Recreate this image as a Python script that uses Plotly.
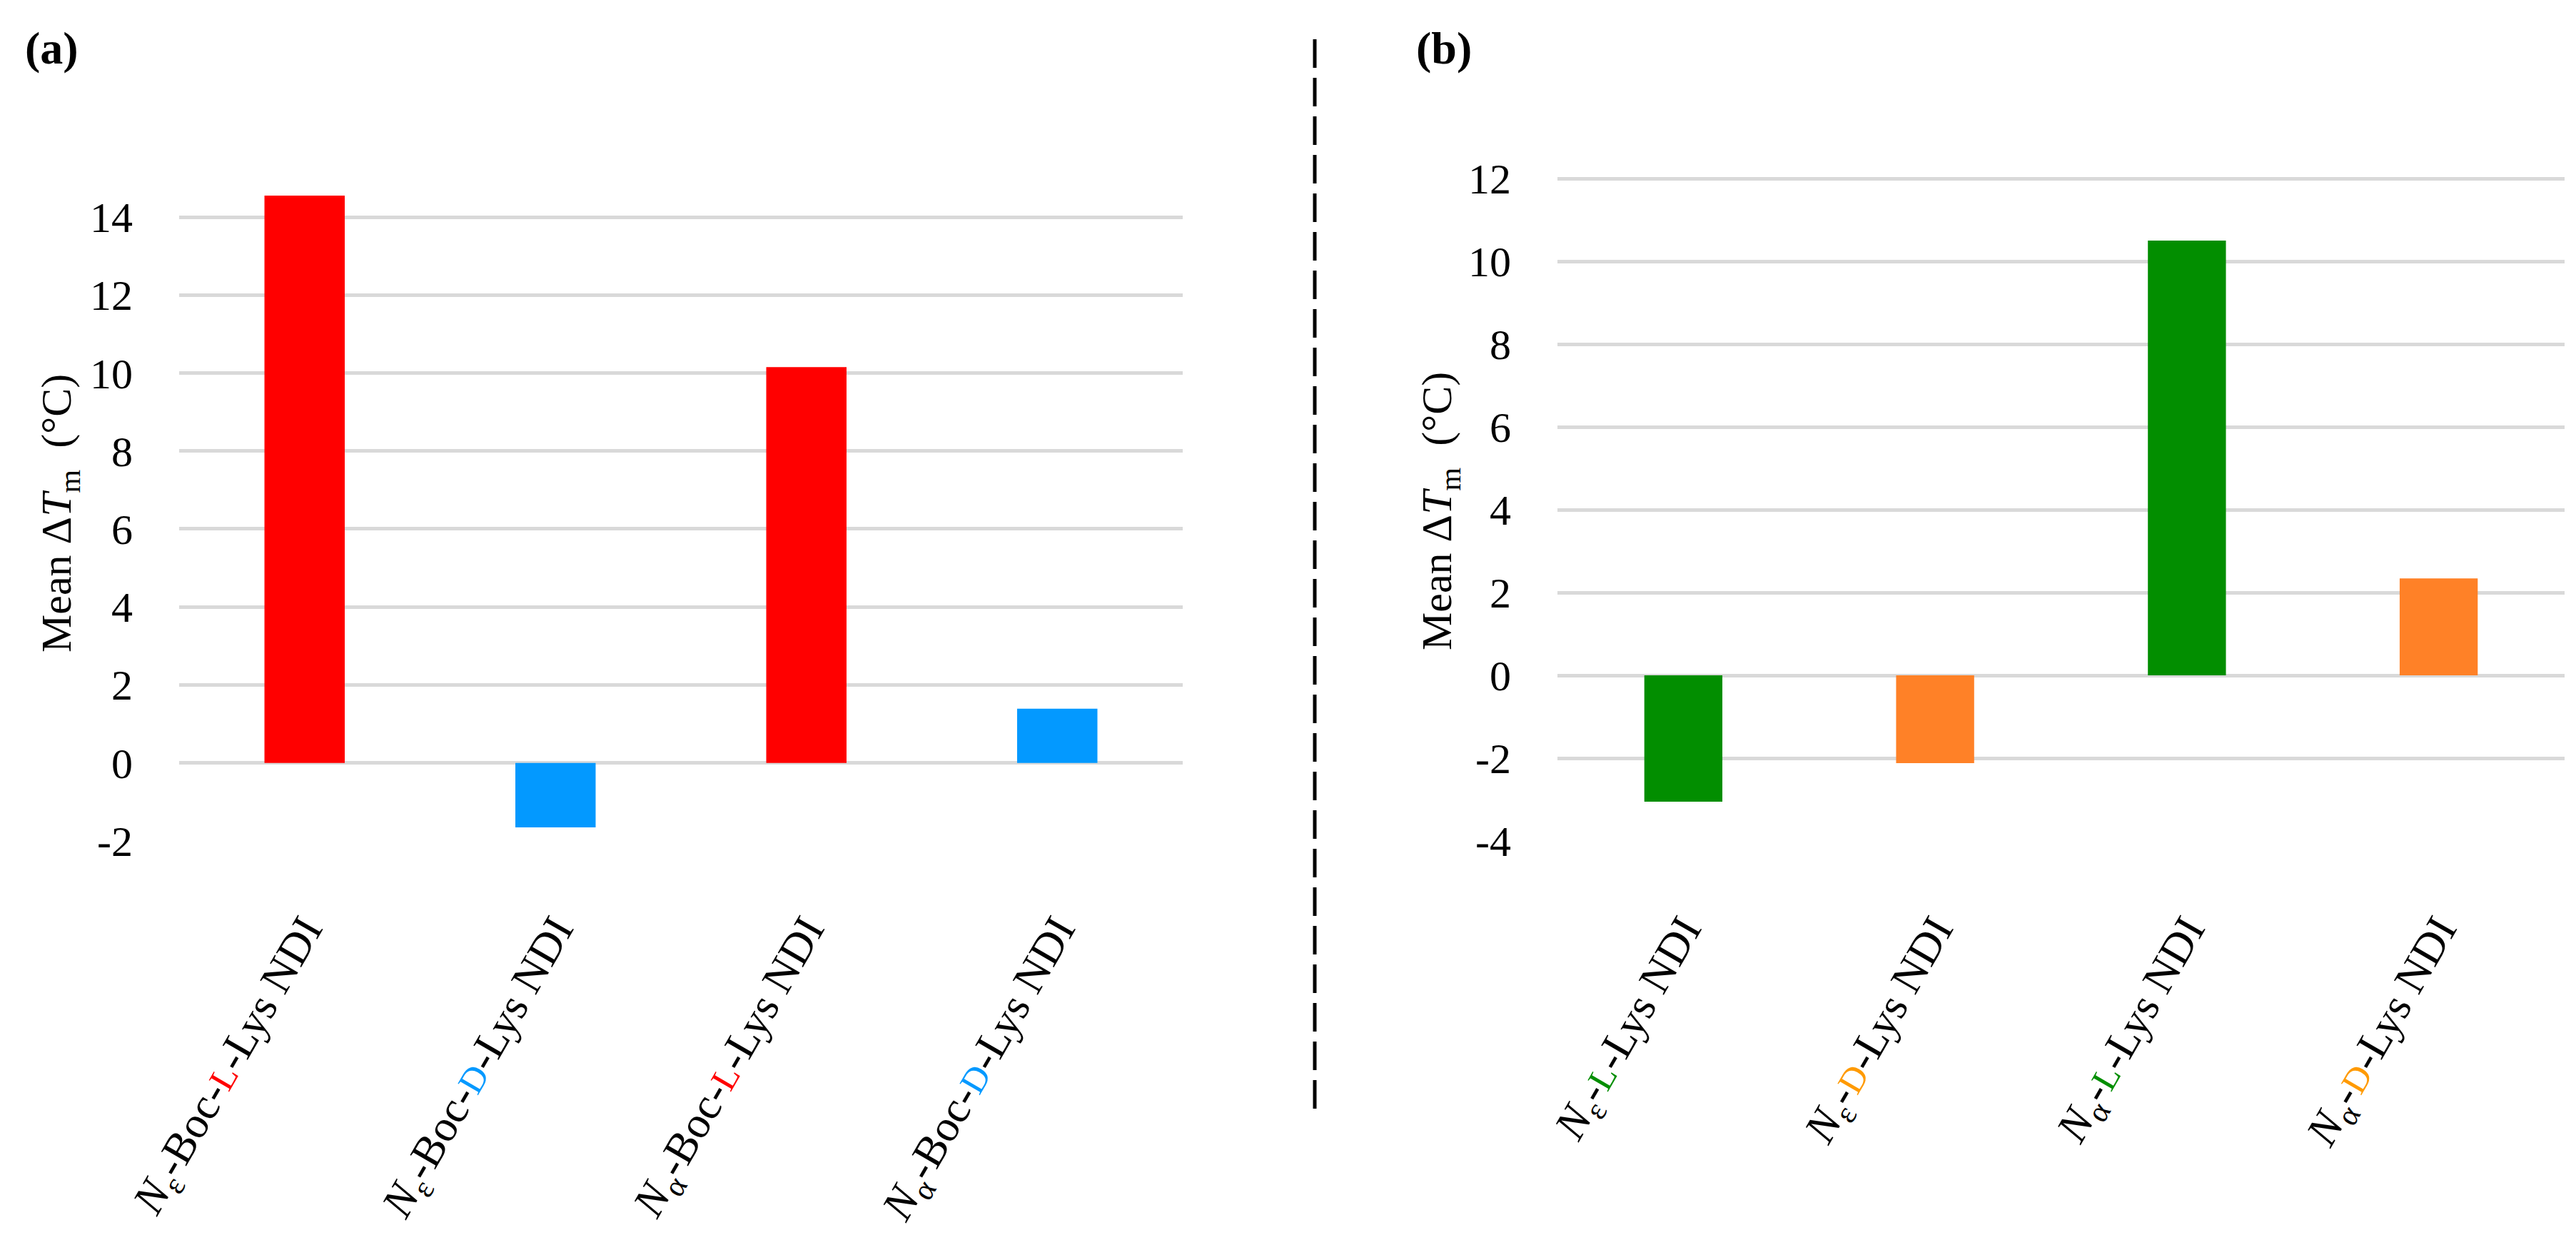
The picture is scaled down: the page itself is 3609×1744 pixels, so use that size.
import plotly.graph_objects as go

W, H = 3609, 1744

# ---------------- data ----------------
cats_a = ["Ne-Boc-L-Lys NDI", "Ne-Boc-D-Lys NDI", "Na-Boc-L-Lys NDI", "Na-Boc-D-Lys NDI"]
values_a = [14.55, -1.65, 10.15, 1.39]
colors_a = ["#FF0000", "#0399FF", "#FF0000", "#0399FF"]

cats_b = ["Ne-L-Lys NDI", "Ne-D-Lys NDI", "Na-L-Lys NDI", "Na-D-Lys NDI"]
values_b = [-3.05, -2.12, 10.5, 2.34]
colors_b = ["#028E00", "#FF8127", "#028E00", "#FF8127"]

yticks_a = [-2, 0, 2, 4, 6, 8, 10, 12, 14]
yticks_b = [-4, -2, 0, 2, 4, 6, 8, 10, 12]

RED, BLUE, GREEN, ORANGE = "#FF0000", "#0399FF", "#028E00", "#FF9A00"


def sc(letter, color):
    return f"<span style='color:{color};font-size:50px'>{letter}</span>"


ticktext_a = [
    f"<i>N</i><sub>ε</sub>-Boc-{sc('L', RED)}-Lys NDI",
    f"<i>N</i><sub>ε</sub>-Boc-{sc('D', BLUE)}-Lys NDI",
    f"<i>N</i><sub>α</sub>-Boc-{sc('L', RED)}-Lys NDI",
    f"<i>N</i><sub>α</sub>-Boc-{sc('D', BLUE)}-Lys NDI",
]
ticktext_b = [
    f"<i>N</i><sub>ε</sub>-{sc('L', GREEN)}-Lys NDI",
    f"<i>N</i><sub>ε</sub>-{sc('D', ORANGE)}-Lys NDI",
    f"<i>N</i><sub>α</sub>-{sc('L', GREEN)}-Lys NDI",
    f"<i>N</i><sub>α</sub>-{sc('D', ORANGE)}-Lys NDI",
]

FONT = "Liberation Serif"

fig = go.Figure()
fig.add_trace(go.Bar(x=cats_a, y=values_a, marker=dict(color=colors_a, line=dict(width=0)),
                     width=0.32, xaxis="x", yaxis="y", showlegend=False))
fig.add_trace(go.Bar(x=cats_b, y=values_b, marker=dict(color=colors_b, line=dict(width=0)),
                     width=0.31, xaxis="x2", yaxis="y2", showlegend=False))


def px_x(p):
    return p / W


def px_y(p):
    return 1 - p / H


def ylabels(vals):
    return [str(v) for v in vals]  # hyphen-minus, as in the reference


grid = dict(showgrid=True, gridcolor="#D9D9D9", gridwidth=5,
            zeroline=True, zerolinecolor="#D9D9D9", zerolinewidth=5,
            showline=False, ticks="outside", ticklen=52, tickcolor="rgba(0,0,0,0)",
            automargin=False,
            tickfont=dict(family=FONT, size=60, color="black"), fixedrange=True)
xcommon = dict(showgrid=False, zeroline=False, showline=False, ticks="outside", ticklen=62,
               tickcolor="rgba(0,0,0,0)", tickangle=-60, automargin=False,
               tickfont=dict(family=FONT, size=62, color="black"), fixedrange=True)

fig.update_layout(
    width=W, height=H,
    autosize=False,
    margin=dict(l=0, r=0, t=0, b=0, pad=0, autoexpand=False),
    paper_bgcolor="white", plot_bgcolor="white",
    bargap=0.68,
    xaxis=dict(domain=[px_x(243), px_x(1649)], anchor="y", type="category",
               categoryorder="array", categoryarray=cats_a,
               tickvals=cats_a, ticktext=ticktext_a, **xcommon),
    yaxis=dict(domain=[px_y(1170), px_y(1170 - 17 * 54.625)], anchor="x",
               range=[-2, 15], tickvals=yticks_a, ticktext=ylabels(yticks_a), **grid),
    xaxis2=dict(domain=[px_x(2174), px_x(3585)], anchor="y2", type="category",
                categoryorder="array", categoryarray=cats_b,
                tickvals=cats_b, ticktext=ticktext_b, **xcommon),
    yaxis2=dict(domain=[px_y(1170), px_y(1170 - 17 * 58)], anchor="x2",
                range=[-4, 13], tickvals=yticks_b, ticktext=ylabels(yticks_b), **grid),
)

title_text = "Mean Δ<i>T</i><sub>m</sub>  (°C)"
fig.add_annotation(text=title_text, x=px_x(75), y=px_y(711), xref="paper", yref="paper",
                   textangle=-90, showarrow=False, xanchor="center", yanchor="middle",
                   font=dict(family=FONT, size=60, color="black"))
fig.add_annotation(text=title_text, x=px_x(2010), y=px_y(708), xref="paper", yref="paper",
                   textangle=-90, showarrow=False, xanchor="center", yanchor="middle",
                   font=dict(family=FONT, size=60, color="black"))

fig.add_annotation(text="<b>(a)</b>", x=px_x(25), y=px_y(60), xref="paper", yref="paper",
                   showarrow=False, xanchor="left", yanchor="middle",
                   font=dict(family=FONT, size=64, color="black"))
fig.add_annotation(text="<b>(b)</b>", x=px_x(1974), y=px_y(60), xref="paper", yref="paper",
                   showarrow=False, xanchor="left", yanchor="middle",
                   font=dict(family=FONT, size=64, color="black"))

# dashed separator
fig.add_shape(type="line", xref="paper", yref="paper",
              x0=px_x(1834), x1=px_x(1834), y0=px_y(47), y1=px_y(1552),
              line=dict(color="black", width=5, dash="40px,14px"))

fig.write_html("out.html")
